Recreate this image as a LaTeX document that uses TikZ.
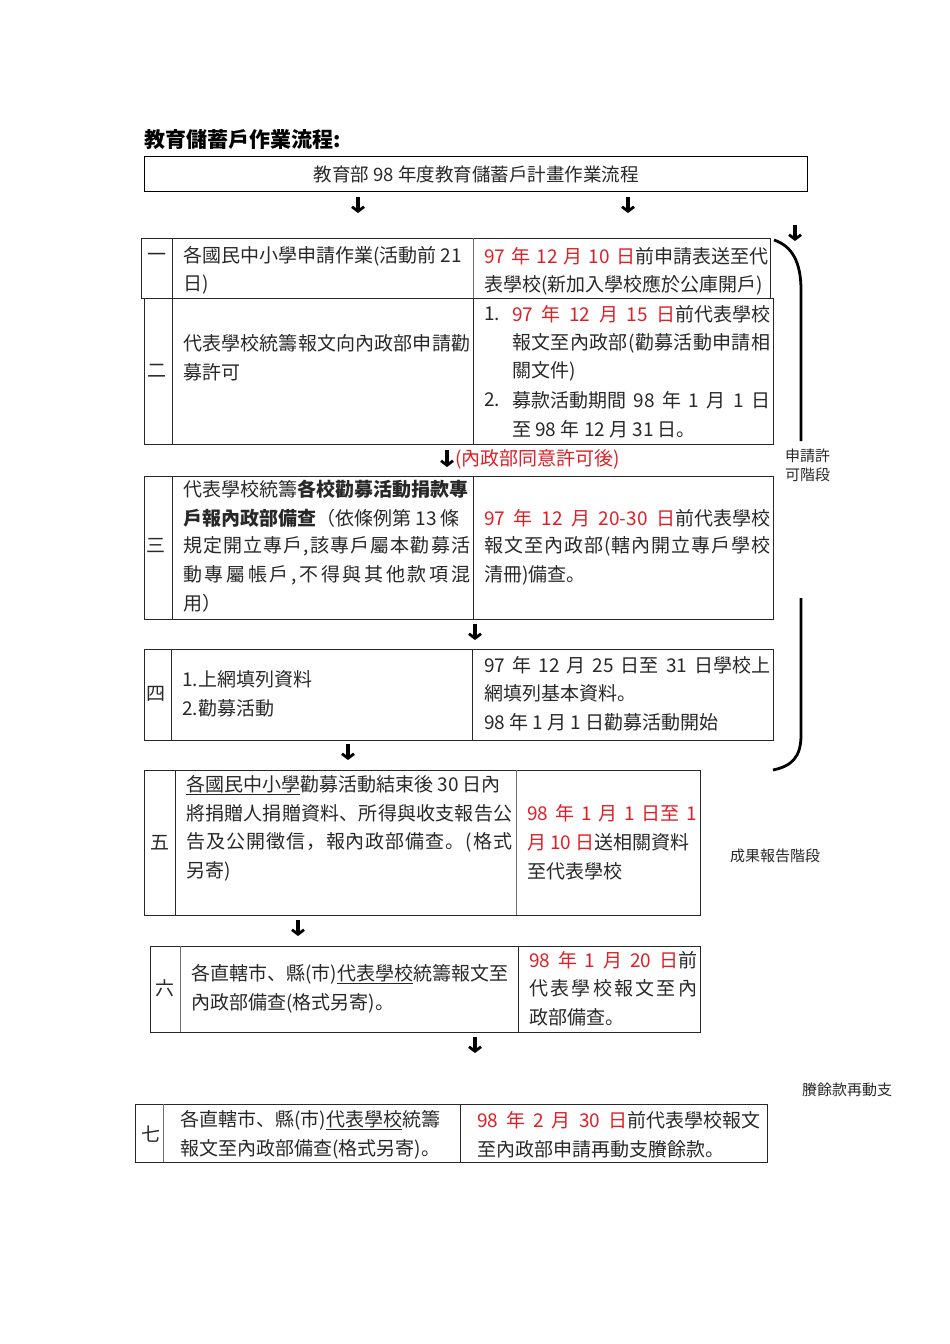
\documentclass[tikz,border=0pt]{standalone}
\usepackage{fontspec}
\setmainfont{Noto Sans CJK JP}
\usetikzlibrary{arrows.meta}
\definecolor{dred}{RGB}{222,32,38}
\definecolor{ink}{RGB}{40,40,40}
\definecolor{rule}{RGB}{110,110,110}
\newcommand{\R}[1]{\textcolor{dred}{#1}}
\newcommand{\J}[2]{\makebox[#1pt][s]{#2}}
\makeatletter
\def\spreadchars#1{\sp@read#1\@nil}
\def\sp@read#1#2\@nil{#1\ifx\relax#2\relax\else\hfil\sp@read#2\@nil\fi}
\newcommand{\Sp}[2]{\hbox to #1pt{\spreadchars{#2}}}
\makeatother
\begin{document}
\begin{tikzpicture}[x=1pt,y=-1pt,
  box/.style={draw=ink,line width=1.4pt},
  sep/.style={draw=ink,line width=1pt},
  gsep/.style={draw=rule,line width=1pt},
  ln/.style={anchor=west,inner sep=0pt,text=ink,font=\fontsize{19}{20}\selectfont},
  num/.style={anchor=center,inner sep=0pt,text=ink,font=\fontsize{19}{20}\selectfont},
  side/.style={anchor=west,inner sep=0pt,text=ink,font=\fontsize{15}{16}\selectfont},
  darr/.style={line width=3.2pt,-{Straight Barb[length=4.5pt,width=12pt,line width=2.8pt]}},
  brace/.style={line width=2.8pt,black}]
\path[use as bounding box] (0,0) rectangle (950,1344);

% title
\node[anchor=west,inner sep=0pt,font=\fontsize{21}{22}\bfseries\selectfont] (title) at (144,140) {教育儲蓄戶作業流程:};

% header
\node[box,draw=black,minimum width=663pt,minimum height=35pt,anchor=north west,inner sep=0pt] (head) at (144,156) {};
\node[inner sep=0pt,font=\fontsize{18.5}{20}\selectfont,text=ink] at (head.center) {教育部 98 年度教育儲蓄戶計畫作業流程};

% arrows under header
\coordinate (a1s) at (358,197); \coordinate (a1e) at (358,213);
\coordinate (a2s) at (628,197); \coordinate (a2e) at (628,213);
\draw[darr] (a1s) -- (a1e);
\draw[darr] (a2s) -- (a2e);
\coordinate (a3s) at (795,225); \coordinate (a3e) at (795,241);
\draw[darr] (a3s) -- (a3e);

% ---------- row 1 ----------
\node[box,minimum width=629pt,minimum height=60pt,anchor=north west,inner sep=0pt] (r1) at (141,238) {};
\draw[sep] (172,238) -- (172,298);
\draw[gsep] (473,238) -- (473,298);
\node[num] at (157,257) {一};
\node[ln] at (183,256) {各國民中小學申請作業(活動前 21};
\node[ln] at (183,285) {日)};
\node[ln] at (484,256) {\J{284}{\R{97 年 12 月 10 日}前申請表送至代}};
\node[ln] at (484,285) {表學校(新加入學校應於公庫開戶)};

% ---------- row 2 ----------
\node[box,minimum width=629pt,minimum height=146pt,anchor=north west,inner sep=0pt] (r2) at (144,298) {};
\draw[sep] (172,298) -- (172,444);
\draw[sep] (473,298) -- (473,444);
\node[num] at (157,371) {二};
\node[ln] at (183,343) {\Sp{287}{代表學校統籌報文向內政部申請勸}};
\node[ln] at (183,372) {募許可};
\node[ln] at (484,314) {1.};
\node[ln] at (512,314) {\J{258}{\R{97 年 12 月 15 日}前代表學校}};
\node[ln] at (512,343) {\Sp{258}{報文至內政部(勸募活動申請相}};
\node[ln] at (512,371) {關文件)};
\node[ln] at (484,400) {2.};
\node[ln] at (512,400) {\J{258}{募款活動期間 98 年 1 月 1 日}};
\node[ln] at (512,429) {至 98 年 12 月 31 日。};

% arrow with note
\coordinate (a4s) at (447,450); \coordinate (a4e) at (447,467);
\draw[darr] (a4s) -- (a4e);
\node[ln,text=dred] at (455,459) {(內政部同意許可後)};

% ---------- row 3 ----------
\node[box,minimum width=629pt,minimum height=143pt,anchor=north west,inner sep=0pt] (r3) at (144,476) {};
\draw[sep] (172,476) -- (172,619);
\draw[sep] (473,476) -- (473,619);
\node[num] at (156,546) {三};
\node[ln] at (183,489) {代表學校統籌\textbf{各校勸募活動捐款專}};
\node[ln] at (183,518) {\textbf{戶報內政部備查}（依條例第 13 條};
\node[ln] at (183,546) {\Sp{287}{規定開立專戶,該專戶屬本勸募活}};
\node[ln] at (183,575) {\Sp{287}{動專屬帳戶,不得與其他款項混}};
\node[ln] at (183,603) {用）};
\node[ln] at (484,518) {\J{286}{\R{97 年 12 月 20-30 日}前代表學校}};
\node[ln] at (484,546) {\Sp{286}{報文至內政部(轄內開立專戶學校}};
\node[ln] at (484,575) {清冊)備查。};

\coordinate (a5s) at (475,624); \coordinate (a5e) at (475,640);
\draw[darr] (a5s) -- (a5e);

% ---------- row 4 ----------
\node[box,minimum width=629pt,minimum height=91pt,anchor=north west,inner sep=0pt] (r4) at (144,649) {};
\draw[sep] (171,649) -- (171,740);
\draw[sep] (472,649) -- (472,740);
\node[num] at (156,694) {四};
\node[ln] at (182,679) {1.上網填列資料};
\node[ln] at (182,708) {2.勸募活動};
\node[ln] at (484,665) {\J{286}{97 年 12 月 25 日至 31 日學校上}};
\node[ln] at (484,693) {網填列基本資料。};
\node[ln] at (484,722) {98 年 1 月 1 日勸募活動開始};

\coordinate (a6s) at (348,744); \coordinate (a6e) at (348,760);
\draw[darr] (a6s) -- (a6e);

% ---------- row 5 ----------
\node[box,minimum width=556pt,minimum height=145pt,anchor=north west,inner sep=0pt] (r5) at (144,770) {};
\draw[sep] (175,770) -- (175,915);
\draw[gsep] (516,770) -- (516,915);
\node[num] at (160,843) {五};
\node[ln] at (186,785) {\underline{各國民中小學}勸募活動結束後 30 日內};
\node[ln] at (186,813) {\Sp{326}{將捐贈人捐贈資料、所得與收支報告公}};
\node[ln] at (186,842) {\Sp{326}{告及公開徵信，報內政部備查。(格式}};
\node[ln] at (186,871) {另寄)};
\node[ln] at (527,813) {\J{170}{\R{98 年 1 月 1 日至 1}}};
\node[ln] at (527,842) {\R{月 10 日}送相關資料};
\node[ln] at (527,871) {至代表學校};

\coordinate (a7s) at (298,920); \coordinate (a7e) at (298,936);
\draw[darr] (a7s) -- (a7e);

% ---------- row 6 ----------
\node[box,minimum width=550pt,minimum height=86pt,anchor=north west,inner sep=0pt] (r6) at (150,946) {};
\draw[gsep] (180,946) -- (180,1032);
\draw[sep] (518,946) -- (518,1032);
\node[num] at (165,988) {六};
\node[ln] at (191,974) {各直轄市、縣(市)\underline{代表學校}統籌報文至};
\node[ln] at (191,1003) {內政部備查(格式另寄)。};
\node[ln] at (529,960) {\J{168}{\R{98 年 1 月 20 日}前}};
\node[ln] at (529,988) {\Sp{168}{代表學校報文至內}};
\node[ln] at (529,1017) {政部備查。};

\coordinate (a8s) at (475,1037); \coordinate (a8e) at (475,1053);
\draw[darr] (a8s) -- (a8e);

% ---------- row 7 ----------
\node[box,minimum width=632pt,minimum height=58pt,anchor=north west,inner sep=0pt] (r7) at (135,1104) {};
\draw[gsep] (163,1104) -- (163,1162);
\draw[sep] (460,1104) -- (460,1162);
\node[num] at (151,1134) {七};
\node[ln] at (180,1120) {各直轄市、縣(市)\underline{代表學校}統籌};
\node[ln] at (180,1149) {報文至內政部備查(格式另寄)。};
\node[ln] at (477,1120) {\J{283}{\R{98 年 2 月 30 日}前代表學校報文}};
\node[ln] at (477,1149) {至內政部申請再動支賸餘款。};

% ---------- side bracket and labels ----------
\draw[brace] (774,240) .. controls (792,246) and (801,262) .. (801,290) -- (801,441);
\draw[brace] (801,598) -- (801,735) .. controls (801,757) and (792,766) .. (773,770);
\node[side] (s1) at (785,456) {申請許};
\node[side] (s2) at (785,475) {可階段};
\node[side] (s3) at (730,856) {成果報告階段};
\node[side] (s4) at (802,1090) {賸餘款再動支};
\end{tikzpicture}
\end{document}
